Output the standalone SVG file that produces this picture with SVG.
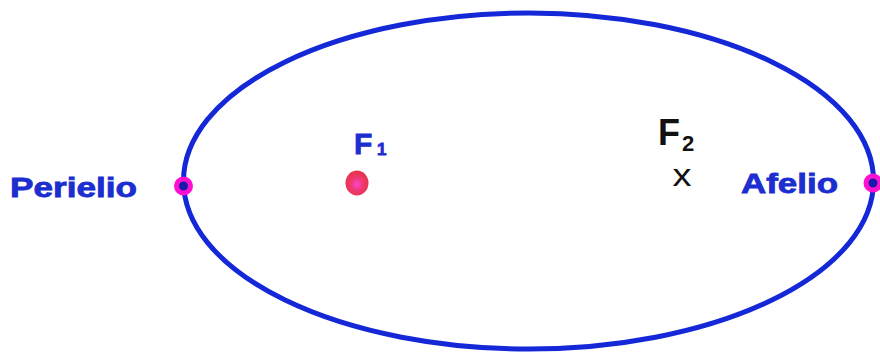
<svg xmlns="http://www.w3.org/2000/svg" width="880" height="356" viewBox="0 0 880 356">
<defs>
<radialGradient id="fdot" cx="0.5" cy="0.55" r="0.5">
<stop offset="0" stop-color="#ff44dd"/>
<stop offset="0.45" stop-color="#f03a78"/>
<stop offset="1" stop-color="#e8324e"/>
</radialGradient>
<style>
.orbit{fill:none;stroke:#1428d8;stroke-width:5}
.apsis{fill:#1a1aa8;stroke:#ff10d0;stroke-width:5}
.lbl{font-family:"Liberation Sans",Arial,sans-serif;font-weight:bold;fill:#1c2ed0;stroke:#1c2ed0;stroke-width:0.8}
.blk{font-family:"Liberation Sans",Arial,sans-serif;fill:#111}
</style>
</defs>
<rect width="880" height="356" fill="#fff"/>
<g id="orbit"><ellipse class="orbit" cx="528.5" cy="181" rx="345" ry="168"/></g>
<g id="perihelion">
<circle class="apsis" cx="183.5" cy="186" r="7"/>
<text class="lbl" x="10" y="197" font-size="28" textLength="127" lengthAdjust="spacingAndGlyphs">Perielio</text>
</g>
<g id="aphelion">
<circle class="apsis" cx="873" cy="183" r="7"/>
<text class="lbl" x="741" y="193" font-size="28" textLength="97" lengthAdjust="spacingAndGlyphs">Afelio</text>
</g>
<g id="focus1">
<ellipse cx="357" cy="183" rx="11.5" ry="12.5" fill="url(#fdot)"/>
<text class="lbl" x="354" y="154" font-size="30">F</text>
<text class="lbl" x="377" y="155" font-size="17">1</text>
</g>
<g id="focus2">
<text class="blk" x="658" y="145" font-size="36" font-weight="bold">F</text>
<text class="blk" x="682" y="151" font-size="22" font-weight="bold">2</text>
<text class="blk" x="682" y="186" font-size="32" text-anchor="middle" textLength="19" lengthAdjust="spacingAndGlyphs">x</text>
</g>
</svg>
